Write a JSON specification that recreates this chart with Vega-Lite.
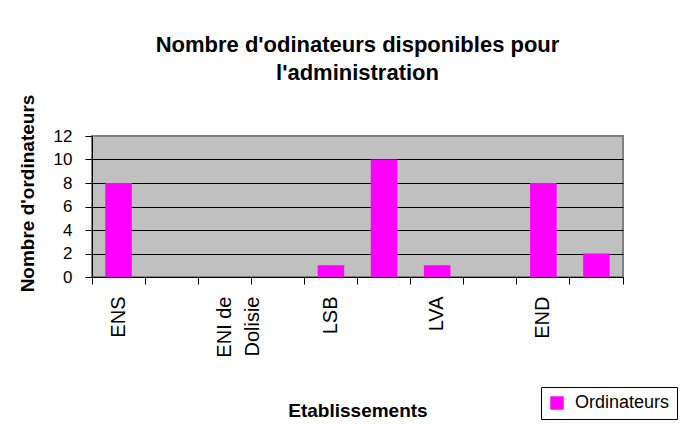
{
  "$schema": "https://vega.github.io/schema/vega-lite/v6.json",
  "autosize": {"type": "none"},
  "width": 531,
  "height": 141,
  "padding": {"left": 92, "top": 136, "right": 68, "bottom": 149},
  "background": "white",
  "title": {
    "text": ["Nombre d'odinateurs disponibles pour", "l'administration"],
    "font": "Liberation Sans",
    "fontSize": 22,
    "fontWeight": "bold",
    "color": "black",
    "lineHeight": 28,
    "anchor": "middle",
    "frame": "group",
    "offset": 9
  },
  "data": {
    "values": [
      {"Etablissement": "ENS", "Ordinateurs": 8},
      {"Etablissement": "Etab. 2", "Ordinateurs": 0},
      {"Etablissement": "ENI de Dolisie", "Ordinateurs": 0},
      {"Etablissement": "Etab. 4", "Ordinateurs": 0},
      {"Etablissement": "LSB", "Ordinateurs": 1},
      {"Etablissement": "Etab. 6", "Ordinateurs": 10},
      {"Etablissement": "LVA", "Ordinateurs": 1},
      {"Etablissement": "Etab. 8", "Ordinateurs": 0},
      {"Etablissement": "END", "Ordinateurs": 8},
      {"Etablissement": "Etab. 10", "Ordinateurs": 2}
    ]
  },
  "mark": {"type": "bar", "width": {"band": 0.5}},
  "encoding": {
    "x": {
      "field": "Etablissement",
      "type": "nominal",
      "sort": null,
      "scale": {"paddingInner": 0, "paddingOuter": 0},
      "axis": {
        "title": "Etablissements",
        "titleFontSize": 19,
        "titleFontWeight": "bold",
        "titlePadding": 44,
        "titleColor": "black",
        "labelAngle": 270,
        "labelFontSize": 20,
        "labelColor": "black",
        "labelPadding": 12,
        "labelLineHeight": 28,
        "labelOverlap": false,
        "labelExpr": "datum.value == 'ENI de Dolisie' ? ['ENI de', 'Dolisie'] : (indexof(['ENS','LSB','LVA','END'], datum.value) >= 0 ? datum.value : '')",
        "tickSize": 7,
        "tickColor": "black",
        "domainColor": "black",
        "bandPosition": 1,
        "tickExtra": true,
        "grid": false
      }
    },
    "y": {
      "field": "Ordinateurs",
      "type": "quantitative",
      "scale": {"domain": [0, 12]},
      "axis": {
        "title": "Nombre d'ordinateurs",
        "titleFontSize": 19,
        "titleFontWeight": "bold",
        "titleColor": "black",
        "titleAngle": 270,
        "titleX": -59,
        "titleY": 57,
        "titleAlign": "center",
        "titleBaseline": "alphabetic",
        "values": [0, 2, 4, 6, 8, 10, 12],
        "labelFontSize": 17,
        "labelColor": "black",
        "labelPadding": 13,
        "tickSize": 7,
        "tickColor": "black",
        "domainColor": "black",
        "grid": true,
        "gridColor": {"condition": {"test": "datum.value == 12", "value": "#808080"}, "value": "black"},
        "gridOpacity": 1,
        "gridWidth": 1.2
      }
    },
    "color": {
      "datum": "Ordinateurs",
      "type": "nominal",
      "scale": {"range": ["#FF00FF"]},
      "legend": {
        "orient": "none",
        "legendX": 449,
        "legendY": 251,
        "title": null,
        "strokeColor": "black",
        "fillColor": "white",
        "padding": 7,
        "symbolType": "square",
        "symbolSize": 180,
        "symbolStrokeWidth": 0,
        "labelFontSize": 18,
        "labelColor": "black",
        "labelOffset": 9
      }
    }
  },
  "config": {
    "font": "Liberation Sans",
    "view": {"fill": "#C0C0C0", "stroke": "#808080", "strokeWidth": 2}
  }
}
